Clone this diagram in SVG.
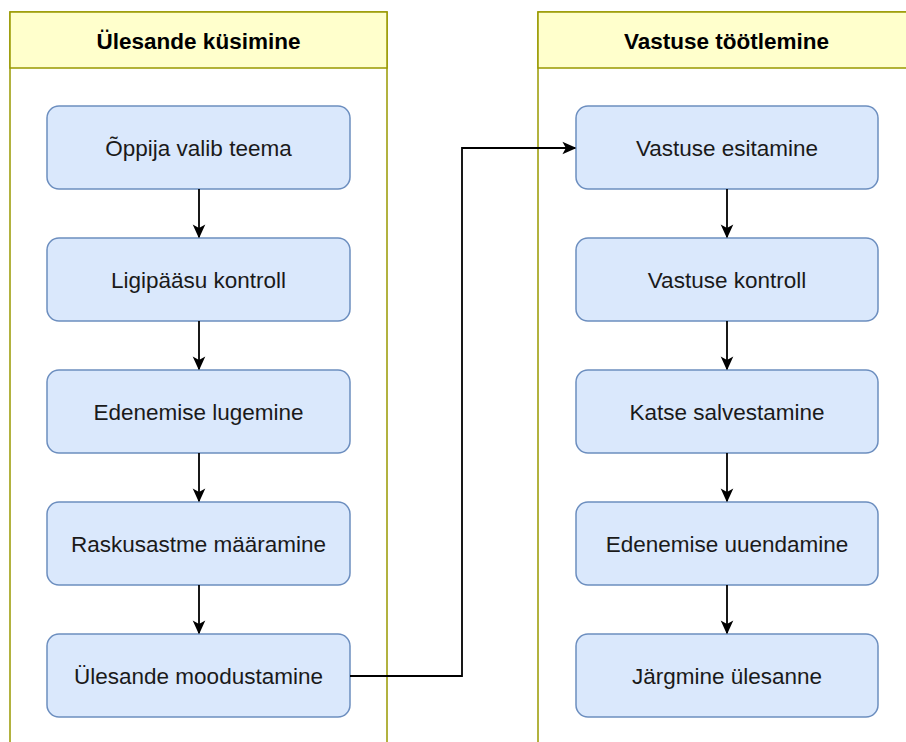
<svg xmlns="http://www.w3.org/2000/svg" width="906" height="742" viewBox="0 0 906 742">
<style>
.pool{fill:#ffffff;stroke:#999900;stroke-width:1.5}
.hdr{fill:#ffffcc;stroke:#999900;stroke-width:1.5}
.ht{font-family:"Liberation Sans",Arial,sans-serif;font-size:22.5px;font-weight:bold;fill:#000;text-anchor:middle;dominant-baseline:central}
.node rect{fill:#dae8fc;stroke:#6c8ebf;stroke-width:1.5}
.node text{font-family:"Liberation Sans",Arial,sans-serif;font-size:22.5px;fill:#1a1a1a;text-anchor:middle;dominant-baseline:central}
.edge{fill:none;stroke:#000;stroke-width:1.8}
</style>
<defs>
<marker id="arr" viewBox="0 0 10 10" refX="9" refY="5" markerWidth="14" markerHeight="14" markerUnits="userSpaceOnUse" orient="auto">
<path d="M0,0.5 L10,5 L0,9.5 L2.5,5 Z" fill="#000"/>
</marker>
</defs>
<g id="pool-left">
<rect class="pool" x="10" y="12" width="377" height="740"/>
<rect class="hdr" x="10" y="12" width="377" height="56"/>
<text class="ht" x="198.5" y="41">Ülesande küsimine</text>
</g>
<g id="pool-right">
<rect class="pool" x="538" y="12" width="377" height="740"/>
<rect class="hdr" x="538" y="12" width="377" height="56"/>
<text class="ht" x="726.5" y="41">Vastuse töötlemine</text>
</g>
<g id="n1" class="node"><rect x="47" y="106" width="303" height="83" rx="12"/><text x="198.5" y="148">Õppija valib teema</text></g>
<g id="n2" class="node"><rect x="47" y="238" width="303" height="83" rx="12"/><text x="198.5" y="280">Ligipääsu kontroll</text></g>
<g id="n3" class="node"><rect x="47" y="370" width="303" height="83" rx="12"/><text x="198.5" y="412">Edenemise lugemine</text></g>
<g id="n4" class="node"><rect x="47" y="502" width="303" height="83" rx="12"/><text x="198.5" y="544">Raskusastme määramine</text></g>
<g id="n5" class="node"><rect x="47" y="634" width="303" height="83" rx="12"/><text x="198.5" y="676">Ülesande moodustamine</text></g>
<g id="n6" class="node"><rect x="576" y="106" width="302" height="83" rx="12"/><text x="727" y="148">Vastuse esitamine</text></g>
<g id="n7" class="node"><rect x="576" y="238" width="302" height="83" rx="12"/><text x="727" y="280">Vastuse kontroll</text></g>
<g id="n8" class="node"><rect x="576" y="370" width="302" height="83" rx="12"/><text x="727" y="412">Katse salvestamine</text></g>
<g id="n9" class="node"><rect x="576" y="502" width="302" height="83" rx="12"/><text x="727" y="544">Edenemise uuendamine</text></g>
<g id="n10" class="node"><rect x="576" y="634" width="302" height="83" rx="12"/><text x="727" y="676">Järgmine ülesanne</text></g>
<g id="edges">
<path class="edge" marker-end="url(#arr)" d="M199,189 V237"/>
<path class="edge" marker-end="url(#arr)" d="M199,321 V369"/>
<path class="edge" marker-end="url(#arr)" d="M199,453 V501"/>
<path class="edge" marker-end="url(#arr)" d="M199,585 V633"/>
<path class="edge" marker-end="url(#arr)" d="M727,189 V237"/>
<path class="edge" marker-end="url(#arr)" d="M727,321 V369"/>
<path class="edge" marker-end="url(#arr)" d="M727,453 V501"/>
<path class="edge" marker-end="url(#arr)" d="M727,585 V633"/>
<path class="edge" marker-end="url(#arr)" d="M350,676 H462 V148 H575"/>
</g>
</svg>
